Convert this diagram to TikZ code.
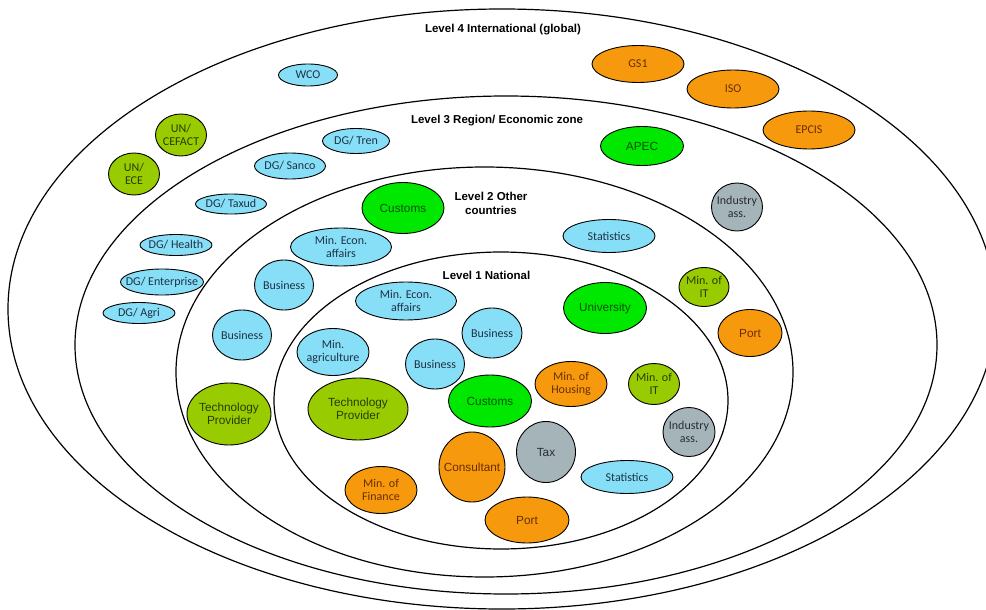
\documentclass[tikz,border=0pt]{standalone}
\usepackage{fontspec}
\setmainfont{Liberation Sans}
\newfontfamily\calfont{Carlito}
\newfontfamily\arifont{Liberation Sans}
\usetikzlibrary{shapes.geometric}
\definecolor{cBlue}{RGB}{135,222,247}
\definecolor{tBlue}{RGB}{30,50,70}
\definecolor{cOrange}{RGB}{247,153,12}
\definecolor{tOrange}{RGB}{105,45,0}
\definecolor{cOlive}{RGB}{153,204,0}
\definecolor{tOlive}{RGB}{40,60,0}
\definecolor{cGreen}{RGB}{0,232,0}
\definecolor{tGreen}{RGB}{0,80,0}
\definecolor{cGrey}{RGB}{165,180,184}
\definecolor{tGrey}{RGB}{40,45,50}
\tikzset{
  ring/.style={draw=black, line width=1.2pt},
  bubble/.style={ellipse, draw=black, line width=0.9pt, inner sep=0pt, outer sep=0pt},
  kblue/.style={fill=cBlue}, kbluet/.style={text=tBlue},
  korange/.style={fill=cOrange}, koranget/.style={text=tOrange},
  kolive/.style={fill=cOlive}, kolivet/.style={text=tOlive},
  kgreen/.style={fill=cGreen}, kgreent/.style={text=tGreen},
  kgrey/.style={fill=cGrey}, kgreyt/.style={text=tGrey},
  cal/.style={font=\calfont\fontsize{12}{13.5}\selectfont, align=center, inner sep=0pt},
  ari/.style={font=\arifont\fontsize{11.8}{13.5}\selectfont, align=center, inner sep=0pt},
  lvl/.style={font=\arifont\bfseries\fontsize{11.5}{14}\selectfont, align=center, inner sep=0pt, text=black},
}
\newcommand\bub[8]{\node[bubble,k#6,minimum width=#4pt,minimum height=#5pt,label={[#7,k#6t]center:{#8}}] (#1) at (#2,#3) {};}
\begin{document}
\begin{tikzpicture}[x=1pt,y=-1pt]
\useasboundingbox (0,0) rectangle (986,610);
\fill[white] (0,0) rectangle (986,610);
\clip (0,0) rectangle (986,610);
% rings
\draw[ring] (502,309) ellipse [x radius=494pt, y radius=300pt];
\draw[ring] (506,345) ellipse [x radius=431pt, y radius=249pt];
\draw[ring] (484.5,372) ellipse [x radius=308.5pt, y radius=205pt];
\draw[ring] (501,400.5) ellipse [x radius=227pt, y radius=148.5pt];
% level labels
\node[lvl] (lab4) at (503,30) {Level 4 International (global)};
\node[lvl] (lab3) at (497,121) {Level 3 Region/ Economic zone};
\node[lvl] (lab2) at (491,203) {Level 2 Other\\countries};
\node[lvl] (lab1) at (486.5,275) {Level 1 National};
% level 4
\bub{wco}{308}{75}{59}{22}{blue}{cal}{WCO}
\bub{gs1}{638}{64}{92}{37}{orange}{cal}{GS1}
\bub{iso}{733}{89}{92}{38}{orange}{cal}{ISO}
\bub{epcis}{809}{130}{92}{38}{orange}{cal}{EPCIS}
\bub{uncefact}{181}{135}{51}{42}{olive}{cal}{UN/\\CEFACT}
\bub{unece}{134}{174}{51}{42}{olive}{cal}{UN/\\ECE}
% level 3
\bub{dgtren}{356}{141}{67}{25}{blue}{cal}{DG/ Tren}
\bub{dgsanco}{290}{166}{71}{26}{blue}{cal}{DG/ Sanco}
\bub{dgtaxud}{231}{204}{71}{20}{blue}{cal}{DG/ Taxud}
\bub{dghealth}{176}{245}{72}{21}{blue}{cal}{DG/ Health}
\bub{dgent}{162}{282}{83}{26}{blue}{cal}{DG/ Enterprise}
\bub{dgagri}{139}{313}{72}{21}{blue}{cal}{DG/ Agri}
\bub{apec}{642}{146}{83}{39}{green}{ari}{APEC}
\bub{ind3}{737}{207}{51}{48}{grey}{cal}{Industry\\ass.}
% level 2
\bub{cust2}{403}{208}{82}{51}{green}{ari}{Customs}
\bub{mea2}{341}{247}{101}{38}{blue}{cal}{Min. Econ.\\affairs}
\bub{bus2a}{284}{285}{59}{50}{blue}{cal}{Business}
\bub{bus2b}{242}{335}{59}{50}{blue}{cal}{Business}
\bub{tech2}{229}{414}{84}{62}{olive}{ari}{Technology\\Provider}
\bub{stat2}{609}{236}{92}{33}{blue}{cal}{Statistics}
\bub{mit2}{704}{287}{50}{39}{olive}{cal}{Min. of\\IT}
\bub{port2}{750}{333}{64}{47}{orange}{ari}{Port}
% level 1
\bub{mea1}{406}{301}{101}{38}{blue}{cal}{Min. Econ.\\affairs}
\bub{magri}{333}{352}{72}{47}{blue}{cal}{Min.\\agriculture}
\bub{bus1a}{492}{333}{60}{50}{blue}{cal}{Business}
\bub{bus1b}{435}{364}{59}{50}{blue}{cal}{Business}
\bub{univ}{605}{308}{83}{51}{green}{ari}{University}
\bub{tech1}{358}{409}{100}{62}{olive}{ari}{Technology\\Provider}
\bub{cust1}{490}{401}{83}{52}{green}{ari}{Customs}
\bub{mhous}{571}{384}{72}{45}{orange}{cal}{Min. of\\Housing}
\bub{mit1}{654}{384}{51}{41}{olive}{cal}{Min. of\\IT}
\bub{ind1}{689}{432}{52}{49}{grey}{cal}{Industry\\ass.}
\bub{tax}{546}{452}{59}{61}{grey}{ari}{Tax}
\bub{cons}{472}{467}{66}{70}{orange}{ari}{Consultant}
\bub{stat1}{627}{477}{92}{33}{blue}{cal}{Statistics}
\bub{port1}{527}{520}{84}{46}{orange}{ari}{Port}
\bub{mfin}{381}{490}{72}{47}{orange}{cal}{Min. of\\Finance}
\end{tikzpicture}
\end{document}
